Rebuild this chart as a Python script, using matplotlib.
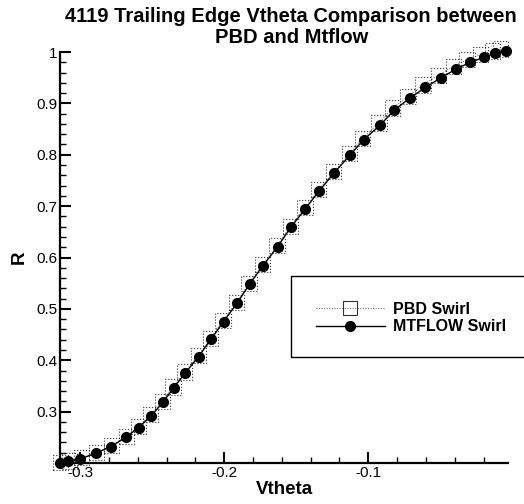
import matplotlib.pyplot as plt
from matplotlib.lines import Line2D
from matplotlib.patches import Rectangle
from matplotlib.ticker import MultipleLocator

plt.rcParams["font.family"] = ["Liberation Sans", "DejaVu Sans"]

# MTFLOW swirl distribution
mtflow_vtheta = [-0.3139, -0.3081, -0.3000, -0.2891, -0.2787, -0.2683, -0.2595,
                 -0.2507, -0.2426, -0.2352, -0.2271, -0.2178, -0.2092, -0.2005,
                 -0.1912, -0.1824, -0.1731, -0.1630, -0.1537, -0.1437, -0.1340,
                 -0.1236, -0.1125, -0.1033, -0.0917, -0.0819, -0.0713, -0.0604,
                 -0.0495, -0.0389, -0.0292, -0.0194, -0.0118, -0.0042]
mtflow_r = [0.200, 0.203, 0.208, 0.219, 0.232, 0.250, 0.269, 0.292, 0.318,
            0.346, 0.375, 0.407, 0.441, 0.475, 0.511, 0.548, 0.584, 0.621,
            0.659, 0.695, 0.730, 0.765, 0.800, 0.829, 0.858, 0.887, 0.910,
            0.931, 0.950, 0.967, 0.980, 0.990, 0.998, 1.001]

# PBD swirl distribution
pbd_vtheta = [-0.3135, -0.3075, -0.2990, -0.2885, -0.2780, -0.2680, -0.2595,
              -0.2510, -0.2430, -0.2355, -0.2275, -0.2180, -0.2095, -0.2008,
              -0.1915, -0.1828, -0.1735, -0.1633, -0.1540, -0.1440, -0.1343,
              -0.1240, -0.1130, -0.1040, -0.0925, -0.0830, -0.0725, -0.0620,
              -0.0515, -0.0410, -0.0315, -0.0220, -0.0140, -0.0080]
pbd_r = [0.201, 0.204, 0.210, 0.221, 0.234, 0.252, 0.271, 0.294, 0.320,
         0.348, 0.377, 0.409, 0.443, 0.477, 0.513, 0.550, 0.586, 0.623,
         0.661, 0.697, 0.732, 0.767, 0.802, 0.832, 0.862, 0.891, 0.914,
         0.936, 0.955, 0.972, 0.985, 0.995, 1.002, 1.006]

fig = plt.figure(figsize=(5.24, 5.04), dpi=100)
ax = fig.add_axes([0.1145, 0.0813, 0.855, 0.8155])

ax.plot(pbd_vtheta, pbd_r, color="#555555", lw=0.7, ls=":", clip_on=False)
ax.scatter(pbd_vtheta, pbd_r, marker="s", s=120, facecolors="none",
           edgecolors="#333333", linewidths=0.8, linestyles=":", clip_on=False,
           zorder=3)
ax.plot(mtflow_vtheta, mtflow_r, color="black", lw=1.0, marker="o", ms=7,
        clip_on=False, zorder=4)

ax.set_xlim(-0.314, -0.003)
ax.set_ylim(0.2, 1.0)
ax.xaxis.set_minor_locator(MultipleLocator(0.02))
ax.yaxis.set_minor_locator(MultipleLocator(0.02))
ax.set_yticks([0.3, 0.4, 0.5, 0.6, 0.7, 0.8, 0.9, 1.0])
ax.set_yticklabels(["0.3", "0.4", "0.5", "0.6", "0.7", "0.8", "0.9", "1"])
ax.set_xticks([-0.3, -0.2, -0.1])
ax.set_xticklabels(["-0.3", "-0.2", "-0.1"])

for side in ["top", "right"]:
    ax.spines[side].set_visible(False)
for side in ["left", "bottom"]:
    ax.spines[side].set_linewidth(1.6)
ax.tick_params(which="major", direction="in", length=8, width=1.5,
               labelsize=11, pad=2)
ax.tick_params(which="minor", direction="in", length=4, width=1.0)

ax.set_xlabel("Vtheta", fontsize=13.5, fontweight="bold", labelpad=1)
ax.set_ylabel("R", fontsize=13.5, fontweight="bold", labelpad=6)
fig.text(0.556, 0.986, "4119 Trailing Edge Vtheta Comparison between\nPBD and Mtflow",
         ha="center", va="top", fontsize=14.5, fontweight="bold", linespacing=1.15)

# legend box
fig.patches.append(Rectangle((291 / 524, 1 - 357 / 504), 0.5, 81 / 504,
                             transform=fig.transFigure, fill=False,
                             edgecolor="black", lw=1.0))
handles = [
    Line2D([], [], color="#555555", lw=0.7, ls=":", marker="s", ms=10,
           mfc="none", mec="#333333", mew=0.8),
    Line2D([], [], color="black", lw=1.0, marker="o", ms=7),
]
fig.legend(handles, ["PBD Swirl", "MTFLOW Swirl"], loc="center left",
           bbox_to_anchor=(308 / 524, 1 - 318 / 504), frameon=False,
           prop={"weight": "bold", "size": 11.5}, handlelength=4.3,
           handletextpad=0.55, labelspacing=0.15, borderpad=0)

fig.savefig("out.png", dpi=100)
